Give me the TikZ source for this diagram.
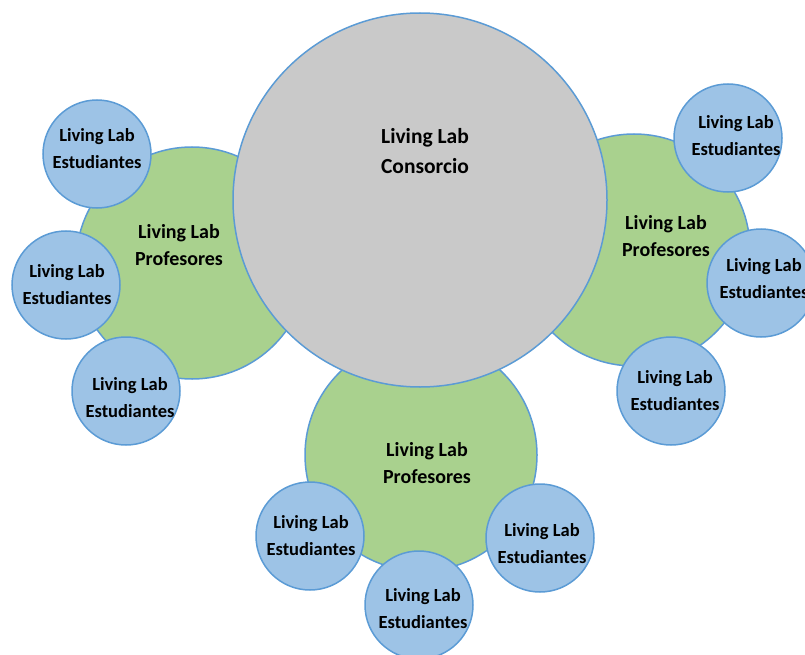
\documentclass[tikz,border=0pt]{standalone}
\usepackage{fontspec}
\setmainfont{Carlito}

\definecolor{edgeblue}{HTML}{5B9BD5}
\definecolor{consgrey}{HTML}{C9C9C9}
\definecolor{profgreen}{HTML}{A9D18E}
\definecolor{estblue}{HTML}{9DC3E6}

\tikzset{
  labcircle/.style={circle, draw=edgeblue, line width=1.5pt, inner sep=0pt, align=center},
  consorcio/.style={labcircle, fill=consgrey, minimum size=374pt},
  profesores/.style={labcircle, fill=profgreen, minimum size=232pt},
  estudiantes/.style={labcircle, fill=estblue, minimum size=108pt},
  esttext/.style={align=center, font=\fontsize{18.5}{27}\selectfont\bfseries},
  proftext/.style={align=center, font=\fontsize{20}{27}\selectfont\bfseries},
  constext/.style={align=center, font=\fontsize{21.5}{30}\selectfont\bfseries}
}

\begin{document}
\begin{tikzpicture}[x=1pt,y=-1pt]

\useasboundingbox (0,0) rectangle (805,655);

\foreach \name/\x/\y/\dx/\dy in {
  profL/192/263/-13/18,
  profR/634/250/32/14,
  profB/421/455/6/-8}
    \node[profesores,
      label={[proftext, xshift=\dx pt, yshift=\dy pt]center:Living Lab\\Profesores}]
      (\name) at (\x,\y) {};

\node[consorcio,
  label={[constext, xshift=5pt, yshift=49pt]center:Living Lab\\Consorcio}]
  (consorcio) at (420,200) {};

\foreach \name/\x/\y/\dx/\dy in {
  estA/97/154/0/5,
  estB/66/285/1/0,
  estC/126/391/4/-7,
  estD/728/138/8/2,
  estE/761/283/3/4,
  estF/671/391/4/0,
  estG/310/536/1/0,
  estH/419/605/4/-4,
  estI/540/538/2/-6}
    \node[estudiantes,
      label={[esttext, xshift=\dx pt, yshift=\dy pt]center:Living Lab\\Estudiantes}]
      (\name) at (\x,\y) {};

\end{tikzpicture}
\end{document}
